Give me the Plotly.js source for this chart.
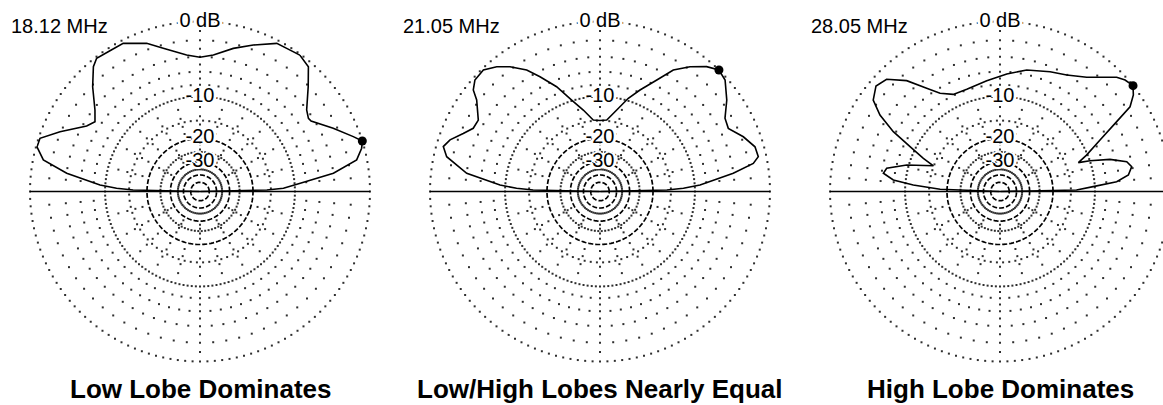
<!DOCTYPE html>
<html><head><meta charset="utf-8">
<script src="https://cdn.plot.ly/plotly-3.0.1.min.js"></script>
<style>html,body{margin:0;padding:0;overflow:hidden;background:#fff}#chart{width:1180px;height:405px}</style>
</head><body><div id="chart"></div>
<script>
// ---------- data ----------
const bandLabels = ["18.12 MHz", "21.05 MHz", "28.05 MHz"];
const panelTitles = ["Low Lobe Dominates", "Low/High Lobes Nearly Equal", "High Lobe Dominates"];

const elev18 = [0, 1.3, 2.2, 4.7, 7.8, 11.4, 15, 17.3, 19.7, 25.4, 32.4, 34, 37.4, 44.1, 49, 53.8, 58.8, 62.6, 70, 76.9, 84.4, 90, 95.6, 104.4, 109.8, 117.4, 121.9, 127.8, 130.5, 135.7, 142.2, 146.4, 150, 156.9, 161.6, 164.7, 168.6, 172.2, 176.3, 177.8, 178.7, 180];
const gain18 = [-99, -16, -12.2, -9.0, -4.0, -1.06, -0.27, 0, -0.74, -2.44, -4.4, -4.5, -4.05, -2.07, -0.49, -0.1, -0.27, -0.32, -1.49, -2.5, -3.69, -4.06, -3.69, -2.4, -1.31, -0.32, -0.3, -0.14, -0.6, -2.15, -4.22, -5.13, -4.49, -1.9, -0.14, -0.1, -1.06, -4.02, -9.07, -12.2, -16, -99];

const elev21 = [0, 1.3, 2.2, 3.7, 7.8, 10.4, 12.4, 16.1, 20.9, 26.2, 30.4, 35.8, 41.7, 45.6, 49.5, 54.2, 58.9, 63, 68.5, 73.1, 78.4, 84.6, 90, 95.4, 101.6, 107.2, 112.5, 117.6, 121.1, 125.8, 129.6, 133.8, 138.3, 141.3, 143.4, 149.6, 153.5, 157, 161, 164, 167.2, 172.2, 176.3, 177.8, 178.7, 180];
const gain21 = [-99, -16, -12.2, -9.07, -4.02, -1.49, -0.82, -0.9, -1.76, -2.97, -2.74, -1.44, -0.25, 0, -0.6, -1.71, -3.1, -5.26, -7.61, -9.56, -12.27, -14.8, -15.0, -14.8, -12.27, -9.85, -6.95, -4.67, -3.1, -1.71, -0.83, -0.15, -0.25, -0.79, -1.74, -3.2, -3.13, -2.31, -1.19, -0.72, -1.34, -4.02, -9.07, -12.2, -16, -99];

const elev28 = [0, 1.1, 3, 4.8, 7.3, 10.7, 13.2, 16.3, 18.9, 20.2, 22.8, 27.2, 30.9, 33.1, 35.9, 38.5, 41.7, 44.4, 52.8, 60.2, 67.3, 77.6, 86.7, 96.8, 108, 115.7, 121.4, 125.4, 130.1, 135.3, 139.6, 144.2, 147.5, 150.7, 153.5, 156.6, 158.9, 164.1, 168.4, 171.1, 173.8, 175.7, 177.9, 180];
const gain28 = [-99, -13.7, -10.3, -6.4, -4.68, -4.08, -4.58, -6.77, -9.97, -12.2, -10.2, -7.09, -3.83, -1.56, -0.55, 0, -0.25, -0.69, -2.92, -4.05, -4.63, -5.36, -6.31, -7.22, -7.87, -7.82, -6.7, -5.06, -2.74, -1.09, -0.74, -1.44, -3.05, -5.65, -9.02, -12.2, -14.9, -9.63, -6.61, -6.26, -7.9, -11.5, -17.9, -99];

const ringLabelLevels = [0, -10, -20, -30];
const ringLabelText = ["0 dB", "-10", "-20", "-30"];
const dashedRingLevels = [-20, -30, -40, -50];
const fineDotRingLevels = [0, -10];
const coarseDotRingLevels = [-15, -25, -35];
const outerSpokeLevels = [-2, -4, -6, -8];
const innerSpokeLevels = [-12, -14, -16, -18];
const deepSpokeLevels = [-22, -24, -26, -28];
const verticalSpokeLevels = [-1, -3, -5, -7, -9];

// ---------- helpers ----------
const W = 1180, H = 405;
function arrl(db) { return Math.pow(0.89, -db / 2); } // ARRL log scale
const FONT = '"Liberation Sans", Arial, sans-serif';

function gridTraces(sp) {
  const th = [], r = [];
  fineDotRingLevels.forEach(db => { for (let a = 0; a < 360; a += 2.5) { th.push(a); r.push(arrl(db)); } });
  coarseDotRingLevels.forEach(db => { for (let a = 0; a < 360; a += 5) { th.push(a + 2.5); r.push(arrl(db)); } });
  for (let a = 5; a < 360; a += 5) {
    if (a === 180) continue;
    outerSpokeLevels.forEach(db => { th.push(a); r.push(arrl(db)); });
    if (a % 15 === 0) innerSpokeLevels.forEach(db => { th.push(a); r.push(arrl(db)); });
    if (a % 30 === 0) deepSpokeLevels.forEach(db => { th.push(a); r.push(arrl(db)); });
  }
  [90, 270].forEach(a => verticalSpokeLevels.forEach(db => { th.push(a); r.push(arrl(db)); }));
  const traces = [{
    type: 'scatterpolar', subplot: sp, mode: 'markers', theta: th, r: r,
    marker: { size: 2, color: '#2e2e2e', symbol: 'square', line: { width: 0 } },
    hoverinfo: 'skip', showlegend: false
  }];
  dashedRingLevels.forEach(db => {
    const t2 = [], r2 = [];
    for (let a = 0; a <= 360; a += 2) { t2.push(a); r2.push(arrl(db)); }
    traces.push({ type: 'scatterpolar', subplot: sp, mode: 'lines', theta: t2, r: r2,
      line: { color: '#000', width: 1.7, dash: '5px,2px' }, hoverinfo: 'skip', showlegend: false });
  });
  traces.push({ type: 'scatterpolar', subplot: sp, mode: 'lines', theta: [0, 0, 180], r: [1, 0, 1],
    line: { color: '#000', width: 1.7 }, hoverinfo: 'skip', showlegend: false });
  traces.push({ type: 'scatterpolar', subplot: sp, mode: 'text', theta: ringLabelLevels.map(() => 90),
    r: ringLabelLevels.map(arrl), text: ringLabelText, textposition: 'middle center',
    textfont: { family: FONT, size: 20, color: '#000',
      shadow: '2px 0 0 #fff, -2px 0 0 #fff, 0 2px 0 #fff, 0 -2px 0 #fff, 3px 0 0 #fff, -3px 0 0 #fff' },
    hoverinfo: 'skip', showlegend: false });
  return traces;
}

function patternTraces(sp, elev, gain) {
  let mi = 0;
  gain.forEach((g, i) => { if (g > gain[mi]) mi = i; });
  return [
    { type: 'scatterpolar', subplot: sp, mode: 'lines', theta: elev, r: gain.map(arrl),
      line: { color: '#000', width: 1.6 }, hoverinfo: 'skip', showlegend: false },
    { type: 'scatterpolar', subplot: sp, mode: 'markers', theta: [elev[mi]], r: [arrl(gain[mi])],
      marker: { size: 9, color: '#000' }, hoverinfo: 'skip', showlegend: false }
  ];
}

const centersX = [200, 600, 1000];
const centerY = 191.5, R = 170;
const subplots = ['polar', 'polar2', 'polar3'];
const patterns = [[elev18, gain18], [elev21, gain21], [elev28, gain28]];
const labelLeft = [9, 401, 809];

let data = [];
const layout = {
  width: W, height: H, margin: { l: 0, r: 0, t: 0, b: 0 }, paper_bgcolor: '#fff',
  showlegend: false, annotations: []
};
subplots.forEach((sp, i) => {
  data = data.concat(gridTraces(sp), patternTraces(sp, patterns[i][0], patterns[i][1]));
  layout[sp] = {
    domain: { x: [(centersX[i] - R) / W, (centersX[i] + R) / W], y: [(H - centerY - R) / H, (H - centerY + R) / H] },
    bgcolor: 'rgba(0,0,0,0)',
    radialaxis: { range: [0, 1], autorange: false, visible: false, showgrid: false, showline: false, showticklabels: false, ticks: '' },
    angularaxis: { visible: false, showgrid: false, showline: false, showticklabels: false, ticks: '', rotation: 0, direction: 'counterclockwise' }
  };
  layout.annotations.push({
    xref: 'paper', yref: 'paper', x: labelLeft[i] / W, y: (H - 26) / H, xanchor: 'left', yanchor: 'middle',
    text: bandLabels[i], showarrow: false, font: { family: FONT, size: 20, color: '#000' }
  });
  layout.annotations.push({
    xref: 'paper', yref: 'paper', x: centersX[i] / W, y: (H - 389) / H, xanchor: 'center', yanchor: 'middle',
    text: '<b>' + panelTitles[i] + '</b>', showarrow: false, font: { family: FONT, size: 26, color: '#000' }
  });
});

Plotly.newPlot('chart', data, layout, { staticPlot: true, displayModeBar: false });
</script></body></html>
